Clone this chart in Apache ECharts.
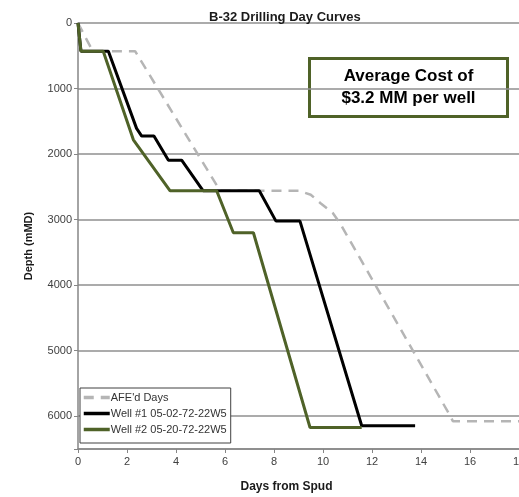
<!DOCTYPE html>
<html>
<head>
<meta charset="utf-8">
<script src="https://cdn.jsdelivr.net/npm/echarts@6/dist/echarts.min.js"></script>
<style>
html,body{margin:0;padding:0;background:#fff;}
#chart{width:519px;height:497px;}
</style>
</head>
<body>
<div id="chart"></div>
<script>
// ---- data ----
const titleText = 'B-32 Drilling Day Curves';
const xAxisName = 'Days from Spud';
const yAxisName = 'Depth (mMD)';
const seriesNames = ["AFE'd Days", 'Well #1 05-02-72-22W5', 'Well #2 05-20-72-22W5'];
const noteLines = ['Average Cost of', '$3.2 MM per well'];

const afeDays   = [0, 0.6, 2.33, 5.8, 9.0, 9.5, 9.9, 10.4, 10.7, 15.2, 15.3, 18];
const afeDepth  = [0, 430, 430, 2560, 2560, 2620, 2750, 2900, 3060, 6000, 6075, 6075];

const well1Days  = [0, 0.12, 1.24, 2.39, 2.6, 3.1, 3.69, 4.23, 5.11, 7.4, 8.08, 9.06, 11.58, 13.76];
const well1Depth = [0, 430, 430, 1608, 1725, 1725, 2093, 2093, 2560, 2560, 3023, 3023, 6145, 6145];

const well2Days  = [0, 0.12, 1.03, 2.26, 3.76, 5.66, 6.34, 7.16, 9.47, 11.58];
const well2Depth = [0, 430, 430, 1782, 2560, 2560, 3200, 3200, 6172, 6172];

const xMin = 0, xMax = 18, xStep = 2;
const yMin = 0, yMax = 6500, yStep = 1000;

function pairs(xs, ys) { return xs.map((x, i) => [x, ys[i]]); }

const chart = echarts.init(document.getElementById('chart'), null, {renderer: 'canvas'});
const font = 'Liberation Sans, Arial, sans-serif';

chart.setOption({
  animation: false,
  backgroundColor: '#ffffff',
  title: {
    text: titleText,
    left: 204, top: 6,
    textStyle: {fontFamily: font, fontSize: 13, fontWeight: 'bold', color: '#1a1a1a'}
  },
  grid: {left: 78, right: 0, top: 23, bottom: 48, containLabel: false, outerBoundsMode: 'none'},
  legend: {
    orient: 'vertical',
    left: 80, top: 388,
    data: seriesNames,
    itemWidth: 26, itemHeight: 12, itemGap: 5,
    padding: [4, 4, 8, 2],
    backgroundColor: '#ffffff',
    borderColor: '#404040', borderWidth: 1,
    lineStyle: {width: 3.5},
    itemStyle: {color: 'rgba(0,0,0,0)', borderColor: 'rgba(0,0,0,0)', borderWidth: 0, opacity: 0},
    textStyle: {fontFamily: font, fontSize: 11, color: '#333333', padding: [0,0,0,-4]}
  },
  xAxis: {
    type: 'value', min: xMin, max: xMax, interval: xStep, position: 'bottom',
    name: xAxisName, nameLocation: 'middle', nameGap: 32,
    nameTextStyle: {fontFamily: font, fontSize: 12, fontWeight: 'bold', color: '#1a1a1a', padding: [0, 24, 0, 0]},
    axisLine: {show: true, onZero: false, lineStyle: {color: '#868686', width: 1.5}},
    axisTick: {show: true, length: 4, lineStyle: {color: '#868686'}},
    axisLabel: {fontFamily: font, fontSize: 11, color: '#404040', margin: 7},
    splitLine: {show: false}
  },
  yAxis: {
    type: 'value', min: yMin, max: yMax, interval: yStep, inverse: true, position: 'left',
    name: yAxisName, nameLocation: 'middle', nameGap: 44, nameRotate: 90,
    nameTextStyle: {fontFamily: font, fontSize: 11, fontWeight: 'bold', color: '#1a1a1a', padding: [0, 20, 0, 0]},
    axisLine: {show: true, onZero: false, lineStyle: {color: '#868686', width: 1.5}},
    axisTick: {show: true, length: 4, lineStyle: {color: '#868686'}},
    axisLabel: {
      fontFamily: font, fontSize: 11, color: '#404040', margin: 6,
      formatter: v => (v % yStep === 0 ? String(v) : '')
    },
    splitLine: {show: true, lineStyle: {color: '#8f8f8f', width: 1.5}}
  },
  series: [
    {
      name: seriesNames[0], type: 'line', data: pairs(afeDays, afeDepth),
      symbol: 'none', showSymbol: false, z: 2,
      lineStyle: {color: '#b5b5b5', width: 2.5, type: [10, 7]},
      itemStyle: {color: '#b5b5b5'}
    },
    {
      name: seriesNames[1], type: 'line', data: pairs(well1Days, well1Depth),
      symbol: 'none', showSymbol: false, z: 3,
      lineStyle: {color: '#000000', width: 3},
      itemStyle: {color: '#000000'}
    },
    {
      name: seriesNames[2], type: 'line', data: pairs(well2Days, well2Depth),
      symbol: 'none', showSymbol: false, z: 4,
      lineStyle: {color: '#4f6228', width: 3},
      itemStyle: {color: '#4f6228'}
    }
  ],
  graphic: [
    {
      type: 'group', left: 308, top: 57, z: 100,
      children: [
        {type: 'rect', shape: {x: 0, y: 0, width: 198, height: 58},
         style: {fill: '#ffffff', stroke: '#4f6228', lineWidth: 3}},
        {type: 'text', x: 99, y: 18,
         style: {text: noteLines[0], fontFamily: font, fontSize: 17, fontWeight: 'bold',
                 fill: '#000000', align: 'center', verticalAlign: 'middle'}},
        {type: 'text', x: 99, y: 40,
         style: {text: noteLines[1], fontFamily: font, fontSize: 17, fontWeight: 'bold',
                 fill: '#000000', align: 'center', verticalAlign: 'middle'}}
      ]
    }
  ]
});
</script>
</body>
</html>
